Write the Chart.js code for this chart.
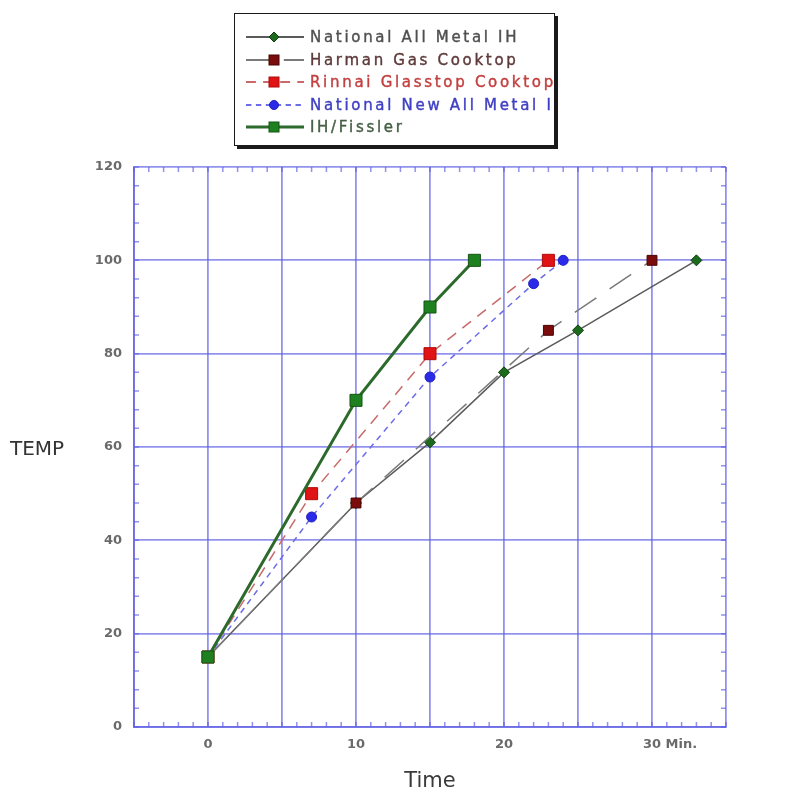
<!DOCTYPE html>
<html>
<head>
<meta charset="utf-8">
<script src="https://cdn.jsdelivr.net/npm/chart.js@4.4.1/dist/chart.umd.min.js"></script>
<style>
  body { margin: 0; background: #fff; }
  #wrap { position: relative; width: 800px; height: 800px; background: #fff; }
  #legend {
    position: absolute; left: 234px; top: 13px; width: 319px; height: 119px;
    border: 1.5px solid #1a1a1a; box-shadow: 3px 3px 0 #1a1a1a; background: #fff;
    overflow: hidden; padding-top: 12px; box-sizing: content-box;
  }
  .row { height: 22.5px; display: flex; align-items: center; white-space: nowrap; }
  .row svg { margin-left: 9px; margin-right: 4px; flex: none; }
  .row span {
    font-family: 'DejaVu Sans', sans-serif; font-size: 15px; letter-spacing: 2.7px;
    -webkit-text-stroke: 0.4px currentColor;
  }
  #ytitle {
    position: absolute; left: 10px; top: 436px; font-family: 'DejaVu Sans', sans-serif;
    font-size: 20px; color: #333;
  }
</style>
</head>
<body>
<div id="wrap">
  <canvas id="chart" width="800" height="800"></canvas>
  <div id="legend"></div>
  <div id="ytitle">TEMP</div>
</div>
<script>
// data (minutes / temperature)
const seriesNames = ['National All Metal IH', 'Harman Gas Cooktop', 'Rinnai Glasstop Cooktop', 'National New All Metal IH', 'IH/Fissler'];
const nationalX = [0, 10, 15, 20, 25, 33];
const nationalY = [15, 48, 61, 76, 85, 100];
const harmanX = [0, 10, 23, 30];
const harmanY = [15, 48, 85, 100];
const rinnaiX = [0, 7, 15, 23];
const rinnaiY = [15, 50, 80, 100];
const nationalNewX = [0, 7, 15, 22, 24];
const nationalNewY = [15, 45, 75, 95, 100];
const fisslerX = [0, 10, 15, 18];
const fisslerY = [15, 70, 90, 100];

const xTickLabels = { 0: '0', 10: '10', 20: '20', 30: '        30 Min.' };
const yTickLabels = [0, 20, 40, 60, 80, 100, 120];

const gridColor = 'rgba(95, 95, 228, 0.68)';
const xMin = -5, xMax = 35, yMin = 0, yMax = 120;

function pts(xs, ys) {
    return xs.map((x, i) => ({ x: x, y: ys[i] }));
}

const styles = [
    { line: '#5a5a5a', width: 1.5, dash: [], point: 'rectRot', radius: 5.5, fill: '#1c6b1c', border: '#0d3d0d', text: '#505050' },
    { line: '#7a7a7a', width: 1.5, dash: [26, 16], point: 'rect', radius: 7, fill: '#7a0c0c', border: '#4a0505', text: '#5e3a3a' },
    { line: '#c86a6a', width: 1.5, dash: [11, 8], point: 'rect', radius: 8.5, fill: '#e01414', border: '#b00a0a', text: '#c24040' },
    { line: '#6c6ce8', width: 1.5, dash: [6, 5], point: 'circle', radius: 5, fill: '#2a2ae8', border: '#2020c0', text: '#4040c4' },
    { line: '#2c6a2c', width: 3, dash: [], point: 'rect', radius: 8.5, fill: '#1f801f', border: '#145414', text: '#456045' }
];

const seriesData = [
    pts(nationalX, nationalY),
    pts(harmanX, harmanY),
    pts(rinnaiX, rinnaiY),
    pts(nationalNewX, nationalNewY),
    pts(fisslerX, fisslerY)
];

const drawOrder = [4, 3, 2, 1, 0]; // Fissler on top

const datasets = seriesData.map((d, i) => ({
    label: seriesNames[i],
    data: d,
    borderColor: styles[i].line,
    borderWidth: styles[i].width,
    borderDash: styles[i].dash,
    pointStyle: styles[i].point,
    pointRadius: styles[i].radius,
    pointBackgroundColor: styles[i].fill,
    pointBorderColor: styles[i].border,
    pointBorderWidth: 1,
    tension: 0,
    fill: false,
    order: drawOrder[i]
}));

// short inward ticks on all four sides of the frame
const innerTicks = {
    id: 'innerTicks',
    beforeDatasetsDraw(chart) {
        const { ctx, chartArea: a, scales: { x, y } } = chart;
        ctx.save();
        ctx.strokeStyle = gridColor;
        ctx.lineWidth = 1.5;
        ctx.beginPath();
        for (let v = xMin; v <= xMax; v += 1) {
            const px = x.getPixelForValue(v);
            ctx.moveTo(px, a.bottom); ctx.lineTo(px, a.bottom - 5);
            ctx.moveTo(px, a.top); ctx.lineTo(px, a.top + 5);
        }
        for (let v = yMin; v <= yMax; v += 4) {
            const py = y.getPixelForValue(v);
            ctx.moveTo(a.left, py); ctx.lineTo(a.left + 5, py);
            ctx.moveTo(a.right, py); ctx.lineTo(a.right - 5, py);
        }
        ctx.stroke();
        ctx.restore();
    }
};

const ctx = document.getElementById('chart').getContext('2d');
new Chart(ctx, {
    type: 'line',
    data: { datasets: datasets },
    plugins: [innerTicks],
    options: {
        responsive: false,
        animation: false,
        devicePixelRatio: 1,
        layout: { padding: { top: 167, right: 74, left: 0, bottom: 0 } },
        plugins: { legend: { display: false }, tooltip: { enabled: false } },
        scales: {
            x: {
                type: 'linear',
                min: xMin, max: xMax,
                afterFit: (s) => { s.height = 73; },
                ticks: {
                    stepSize: 5,
                    padding: 10,
                    maxRotation: 0,
                    autoSkip: false,
                    color: '#6a6a6a',
                    font: { family: 'DejaVu Sans', size: 13, weight: 'bold' },
                    callback: (v) => xTickLabels[v] || ''
                },
                grid: { color: gridColor, lineWidth: 1.8, drawTicks: false },
                border: { color: gridColor, width: 2 },
                title: {
                    display: true, text: 'Time', color: '#3a3a3a',
                    font: { family: 'DejaVu Sans', size: 21 },
                    padding: { top: 0, bottom: 6 }
                }
            },
            y: {
                type: 'linear',
                min: yMin, max: yMax,
                afterFit: (s) => { s.width = 134; },
                ticks: {
                    stepSize: 20,
                    padding: 12,
                    color: '#6a6a6a',
                    font: { family: 'DejaVu Sans', size: 13, weight: 'bold' },
                    callback: (v) => yTickLabels.includes(v) ? String(v) : ''
                },
                grid: { color: gridColor, lineWidth: 1.8, drawTicks: false },
                border: { color: gridColor, width: 2 }
            }
        }
    }
});

// legend: line sample with marker, then the series name
const legend = document.getElementById('legend');
styles.forEach((s, i) => {
    const row = document.createElement('div');
    row.className = 'row';
    const dash = s.dash.length ? `stroke-dasharray="${s.dash.map(d => d * 0.9).join(' ')}"` : '';
    let mark;
    if (s.point === 'rectRot') {
        mark = `<polygon points="30,3 35,8 30,13 25,8" fill="${s.fill}" stroke="${s.border}" stroke-width="1"/>`;
    } else if (s.point === 'circle') {
        mark = `<circle cx="30" cy="8" r="4.5" fill="${s.fill}" stroke="${s.border}" stroke-width="1"/>`;
    } else {
        mark = `<rect x="25" y="3" width="10" height="10" fill="${s.fill}" stroke="${s.border}" stroke-width="1"/>`;
    }
    row.innerHTML = `<svg width="62" height="16"><line x1="2" y1="8" x2="60" y2="8" stroke="${s.line}" stroke-width="${Math.max(2, s.width)}" ${dash}/>${mark}</svg>` +
        `<span style="color:${s.text}">${seriesNames[i]}</span>`;
    legend.appendChild(row);
});
</script>
</body>
</html>
